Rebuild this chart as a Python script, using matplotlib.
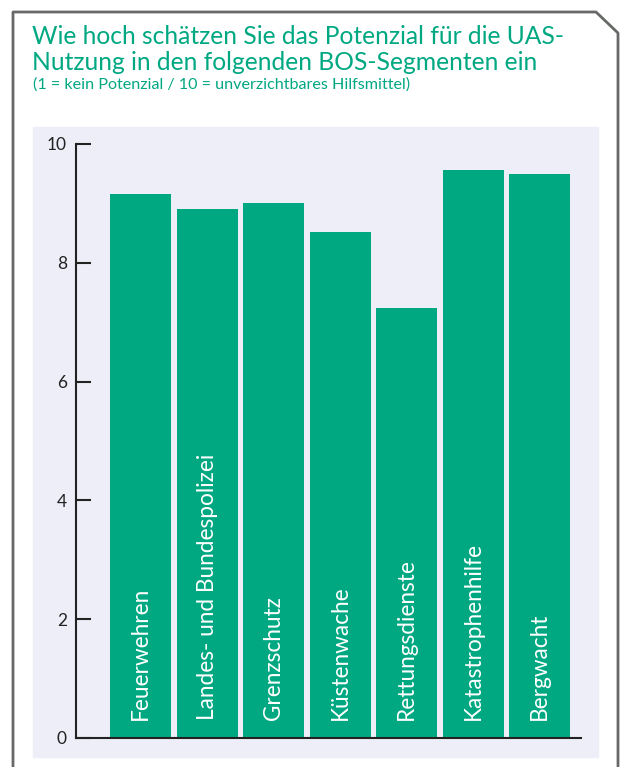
import matplotlib.pyplot as plt
from matplotlib.lines import Line2D
from matplotlib.patches import Rectangle

# data
segments = ["Feuerwehren", "Landes- und Bundespolizei", "Grenzschutz", "Küstenwache",
            "Rettungsdienste", "Katastrophenhilfe", "Bergwacht"]
scores = [9.16, 8.91, 9.01, 8.52, 7.24, 9.56, 9.49]
yticks = [0, 2, 4, 6, 8, 10]

green = "#00a882"
W, H = 626, 767

plt.rcParams['font.family'] = ['Lato', 'DejaVu Sans']
fig = plt.figure(figsize=(W / 100, H / 100), dpi=100)

def fx(px):
    return px / W

def fy(py):
    return 1 - py / H

# outer frame with cut corner
frame = Line2D([fx(13), fx(13), fx(596), fx(618), fx(618)],
               [fy(767), fy(12), fy(12), fy(33), fy(767)],
               color="#666966", lw=2.0, transform=fig.transFigure)
fig.add_artist(frame)

# light panel behind the plot
fig.add_artist(Rectangle((fx(33), fy(757)), fx(598) - fx(33), fy(127) - fy(757),
                         transform=fig.transFigure, color="#eeeef8", zorder=0))

fig.text(fx(32), fy(44), "Wie hoch schätzen Sie das Potenzial für die UAS-",
         color=green, fontsize=17.7, va='baseline')
fig.text(fx(32), fy(70), "Nutzung in den folgenden BOS-Segmenten ein",
         color=green, fontsize=17.7, va='baseline')
fig.text(fx(33), fy(89), "(1 = kein Potenzial / 10 = unverzichtbares Hilfsmittel)",
         color=green, fontsize=11.6, va='baseline')

ax = fig.add_axes([fx(76), fy(738), fx(581) - fx(76), fy(144) - fy(738)])
ax.patch.set_alpha(0)

x = range(len(segments))
ax.bar(x, scores, width=0.917, color=green, zorder=2)
for i, name in enumerate(segments):
    ax.text(i, 0.3, name, rotation=90, ha='center', va='bottom',
            color='white', fontsize=16.3, zorder=3)

ax.set_xlim(-0.97, 6.62)
ax.set_ylim(0, 10)
ax.set_yticks(yticks)
ax.set_xticks([])
ax.tick_params(axis='y', direction='in', length=11, width=1.5, pad=6.5,
               labelsize=12.5, labelcolor='#222222', color='#222222')
for s in ['top', 'right']:
    ax.spines[s].set_visible(False)
for s in ['left', 'bottom']:
    ax.spines[s].set_linewidth(1.5)
    ax.spines[s].set_color('#222222')

fig.savefig("out.png", dpi=100)
